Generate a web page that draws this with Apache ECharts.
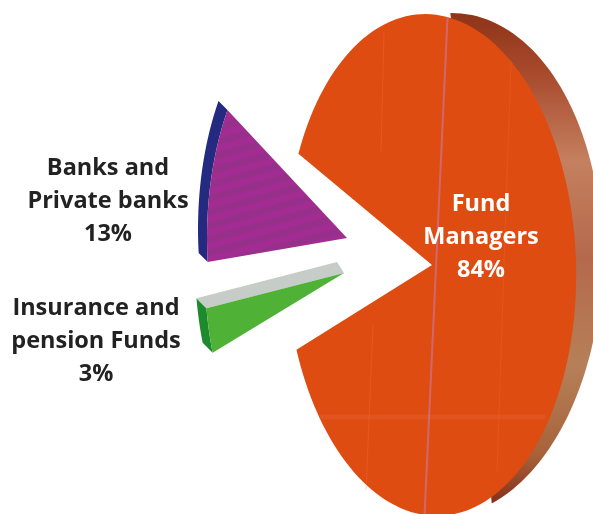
<!DOCTYPE html>
<html>
<head>
<meta charset="utf-8">
<style>html,body{margin:0;padding:0;background:#fff}#chart{width:593px;height:514px}</style>
<script src="https://cdn.jsdelivr.net/npm/echarts@6/dist/echarts.min.js"></script>
</head>
<body>
<div id="chart"></div>
<script>
var labels = [['Fund', 'Managers'], ['Banks and', 'Private banks'], ['Insurance and', 'pension Funds']];
var shares = [84, 13, 3];

// where each exploded slice sits. squeeze = the print's perspective on the sweep
var slices = [
  {cx: 431, cy: 265, rx: 145, ry: 251, tilt: -2, start: 207.5, squeeze: 1.038, apex: [432, 265], labelX: 481, labelY: 204, textColor: '#fff'},
  {cx: 347, cy: 238, rx: 140, ry: 246, tilt: 0, start: 174.4, squeeze: 0.79, depth: [-9, -9], labelX: 108, labelY: 168, textColor: '#222'},
  {cx: 344, cy: 273, rx: 139, ry: 244, tilt: 0, start: 160.9, squeeze: 1, depth: [-10, -10], labelX: 96, labelY: 308, textColor: '#222'}
];

function pt(g, deg) {
  var t = deg * Math.PI / 180, d = g.tilt * Math.PI / 180;
  var x = g.rx * Math.cos(t), y = g.ry * Math.sin(t);
  return [g.cx + x * Math.cos(d) - y * Math.sin(d), g.cy + x * Math.sin(d) + y * Math.cos(d)];
}

function arc(g, from, to) {
  var out = [], n = Math.ceil(Math.abs(to - from) / 2);
  for (var i = 0; i <= n; i++) out.push(pt(g, from + (to - from) * i / n));
  return out;
}

function shift(points, d) {
  return points.map(function (p) { return [p[0] + d[0], p[1] + d[1]]; });
}

function poly(points, fill) {
  return {type: 'polygon', shape: {points: points}, style: {fill: fill}};
}

function streak(p, q, color, width, opacity) {
  return {type: 'line', shape: {x1: p[0], y1: p[1], x2: q[0], y2: q[1]},
    style: {stroke: color, lineWidth: width, opacity: opacity}};
}

function stripes(a, b, n) {
  var stops = [];
  for (var i = 0; i < n; i++) {
    stops.push({offset: i / n, color: i % 2 ? a : b});
    stops.push({offset: (i + 1) / n, color: i % 2 ? a : b});
  }
  return new echarts.graphic.LinearGradient(0.1, 0, 0.4, 1, stops);
}

function drawFund(g, sweep) {
  var back = {cx: 447, cy: 265, rx: 155, ry: 252, tilt: 2};
  var rim = new echarts.graphic.LinearGradient(0, 0, 0, 1, [
    {offset: 0, color: '#8e3418'},
    {offset: 0.12, color: '#a8492c'},
    {offset: 0.3, color: '#c4805f'},
    {offset: 0.5, color: '#b5694c'},
    {offset: 0.72, color: '#b58058'},
    {offset: 0.9, color: '#a8623a'},
    {offset: 1, color: '#85301a'}
  ]);
  var face = arc(g, g.start, g.start + sweep);
  face.push(g.apex);
  return [
    poly(arc(back, -92, 70), rim),
    poly(face, '#df4c12'),
    streak(pt(g, -80), pt(g, 96), '#cf6a78', 2, 0.9),
    // faint print streaks on the big slice
    streak([384, 32], [381, 152], '#ee7a2a', 1, 0.3),
    streak([373, 325], [366, 490], '#ee7a2a', 1, 0.3),
    streak([511, 60], [497, 472], '#ee7a2a', 1, 0.22),
    streak([320, 417], [545, 417], '#ee8a60', 5, 0.14)
  ];
}

function drawBanks(g, sweep) {
  var front = arc(g, g.start, g.start + sweep);
  var side = front.concat(shift(front, g.depth).reverse());
  var face = front.concat([[g.cx, g.cy]]);
  return [poly(side, '#232a80'), poly(face, stripes('#a22c91', '#96308a', 24))];
}

function drawInsurance(g, sweep) {
  var front = arc(g, g.start, g.start + sweep);
  var upper = front[front.length - 1];
  var side = front.concat(shift(front, g.depth).reverse());
  var apex = [g.cx, g.cy];
  var top = [apex, upper, shift([upper], g.depth)[0], shift([apex], [-7, -11])[0]];
  return [poly(side, '#1e8a2e'), poly(top, '#c6cdc9'), poly(front.concat([apex]), '#4fb136')];
}

var drawers = [drawFund, drawBanks, drawInsurance];

function renderSlice(params, api) {
  var i = api.value(0), g = slices[i];
  var sweep = api.value(1) / 100 * 360 * g.squeeze;
  var kids = drawers[i](g, sweep);
  labels[i].concat([api.value(1) + '%']).forEach(function (line, n) {
    kids.push({
      type: 'text',
      style: {
        text: line, x: g.labelX, y: g.labelY + n * 33, align: 'center', verticalAlign: 'middle',
        fill: g.textColor, font: '700 23.5px "Open Sans"'
      }
    });
  });
  return {type: 'group', children: kids};
}

var chart = echarts.init(document.getElementById('chart'));
chart.setOption({
  backgroundColor: '#fff',
  animation: false,
  series: [{
    type: 'custom',
    coordinateSystem: 'none',
    renderItem: renderSlice,
    data: shares.map(function (v, i) { return [i, v]; })
  }]
});
</script>
</body>
</html>
